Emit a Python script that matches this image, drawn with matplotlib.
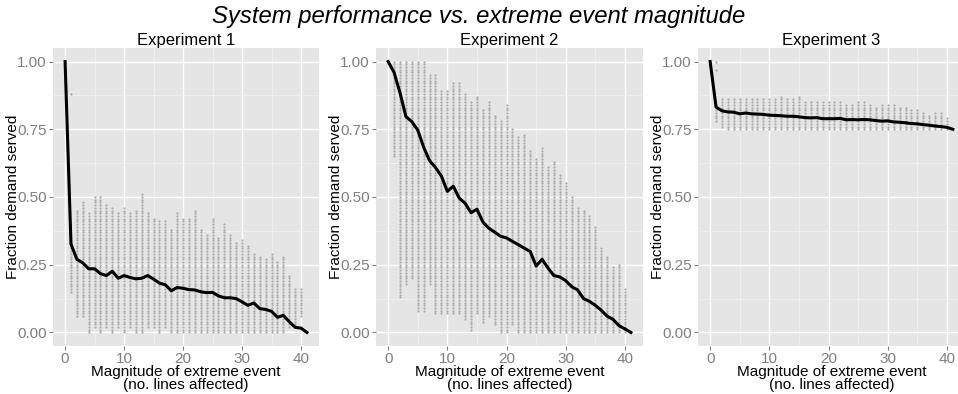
import numpy as np
import matplotlib.pyplot as plt

plt.rcParams['font.family'] = ['Liberation Sans', 'DejaVu Sans']

magnitude = list(range(42))

# mean fraction of demand served, per magnitude
mean_exp1 = [1.0, 0.326, 0.27, 0.257, 0.235, 0.235, 0.217, 0.21, 0.226, 0.2, 0.21,
             0.203, 0.198, 0.2, 0.21, 0.197, 0.182, 0.176, 0.154, 0.166, 0.163,
             0.158, 0.157, 0.15, 0.147, 0.148, 0.135, 0.128, 0.128, 0.125, 0.113,
             0.1, 0.109, 0.088, 0.085, 0.078, 0.056, 0.063, 0.04, 0.019, 0.016, 0.0]
mean_exp2 = [1.0, 0.96, 0.885, 0.797, 0.778, 0.747, 0.684, 0.634, 0.609, 0.577, 0.521,
             0.54, 0.496, 0.477, 0.442, 0.455, 0.408, 0.385, 0.37, 0.355, 0.349,
             0.336, 0.324, 0.311, 0.299, 0.245, 0.27, 0.238, 0.21, 0.205, 0.191,
             0.169, 0.157, 0.125, 0.115, 0.1, 0.082, 0.06, 0.048, 0.025, 0.013, 0.0]
mean_exp3 = [1.0, 0.832, 0.818, 0.814, 0.813, 0.807, 0.81, 0.807, 0.806, 0.805, 0.802,
             0.801, 0.8, 0.798, 0.798, 0.796, 0.793, 0.792, 0.793, 0.789, 0.789,
             0.789, 0.79, 0.785, 0.786, 0.785, 0.786, 0.785, 0.782, 0.78, 0.781,
             0.777, 0.776, 0.774, 0.771, 0.77, 0.767, 0.765, 0.762, 0.76, 0.757, 0.75]

# spread of the individual runs (lowest / highest value seen at each magnitude)
lo_exp1 = [1.0, 0.15, 0.06, 0.06, 0.0, 0.02, 0.0, 0.02, 0.0, 0.02, 0.0,
           0.02, 0.0, 0.0, 0.02, 0.02, 0.0, 0.02, 0.0, 0.0, 0.0,
           0.0, 0.0, 0.0, 0.0, 0.0, 0.0, 0.0, 0.0, 0.0, 0.0,
           0.0, 0.0, 0.0, 0.0, 0.0, 0.0, 0.0, 0.02, 0.02, 0.06, 0.0]
hi_exp1 = [1.0, 0.33, 0.45, 0.48, 0.44, 0.5, 0.5, 0.47, 0.46, 0.44, 0.46,
           0.44, 0.45, 0.51, 0.44, 0.42, 0.41, 0.41, 0.38, 0.44, 0.42,
           0.42, 0.45, 0.38, 0.36, 0.42, 0.35, 0.4, 0.36, 0.33, 0.34,
           0.32, 0.29, 0.28, 0.27, 0.29, 0.26, 0.28, 0.21, 0.16, 0.16, 0.0]
lo_exp2 = [1.0, 0.65, 0.13, 0.18, 0.2, 0.08, 0.08, 0.18, 0.07, 0.07, 0.07,
           0.07, 0.07, 0.05, 0.01, 0.07, 0.04, 0.06, 0.03, 0.0, 0.0,
           0.03, 0.0, 0.0, 0.0, 0.0, 0.0, 0.0, 0.0, 0.0, 0.0,
           0.0, 0.0, 0.0, 0.0, 0.0, 0.0, 0.0, 0.0, 0.0, 0.0, 0.0]
hi_exp2 = [1.0, 1.0, 1.0, 1.0, 1.0, 1.0, 1.0, 0.95, 0.95, 0.89, 0.89,
           0.92, 0.92, 0.88, 0.85, 0.87, 0.82, 0.85, 0.8, 0.78, 0.84,
           0.75, 0.72, 0.73, 0.67, 0.64, 0.68, 0.61, 0.63, 0.58, 0.55,
           0.5, 0.46, 0.45, 0.43, 0.39, 0.31, 0.28, 0.24, 0.25, 0.16, 0.0]
lo_exp3 = [1.0, 0.78, 0.755, 0.75, 0.75, 0.75, 0.75, 0.75, 0.75, 0.75, 0.75,
           0.75, 0.75, 0.75, 0.75, 0.75, 0.75, 0.75, 0.75, 0.75, 0.75,
           0.75, 0.75, 0.75, 0.75, 0.75, 0.75, 0.75, 0.75, 0.75, 0.75,
           0.75, 0.75, 0.75, 0.75, 0.75, 0.75, 0.75, 0.75, 0.75, 0.75, 0.75]
hi_exp3 = [1.0, 0.84, 0.865, 0.86, 0.865, 0.865, 0.865, 0.86, 0.86, 0.865, 0.86,
           0.86, 0.875, 0.86, 0.86, 0.87, 0.855, 0.855, 0.855, 0.85, 0.855,
           0.85, 0.85, 0.845, 0.845, 0.85, 0.855, 0.845, 0.83, 0.84, 0.845,
           0.84, 0.835, 0.83, 0.825, 0.825, 0.81, 0.8, 0.815, 0.815, 0.79, 0.75]

# isolated runs away from the main cloud: (magnitude, fraction)
extra_exp1 = [(1, 0.88)]
extra_exp2 = []
extra_exp3 = [(1, 1.0), (1, 0.97)]

titles = ['Experiment 1', 'Experiment 2', 'Experiment 3']

# axes rectangles in pixels (left, right), shared top/bottom
W, H = 958, 394
panel_x = [(53, 319), (376, 643), (698, 965)]
panel_top, panel_bottom = 48, 346


def run_points(lo, hi, extra):
    xs, ys = [], []
    levels = np.arange(0, 1.0001, 0.01)
    for x in magnitude:
        sel = levels[(levels >= lo[x] - 1e-9) & (levels <= hi[x] + 1e-9)]
        xs += [x] * len(sel)
        ys += list(sel)
    for x, y in extra:
        xs.append(x)
        ys.append(y)
    return xs, ys


def draw_panel(ax, mean, lo, hi, extra, title):
    ax.set_facecolor('#E5E5E5')
    for s in ax.spines.values():
        s.set_visible(False)
    ax.set_xlim(-2.05, 43.05)
    ax.set_ylim(-0.05, 1.05)
    ax.set_xticks([0, 10, 20, 30, 40])
    ax.set_yticks([0, 0.25, 0.5, 0.75, 1.0])
    ax.set_yticklabels(['0.00', '0.25', '0.50', '0.75', '1.00'])
    ax.set_xticks([5, 15, 25, 35], minor=True)
    ax.set_yticks([0.125, 0.375, 0.625, 0.875], minor=True)
    ax.grid(which='major', color='white', lw=1.0)
    ax.grid(which='minor', color='#F2F2F2', lw=0.6)
    ax.set_axisbelow(True)
    ax.tick_params(which='major', colors='#7F7F7F', labelsize=11, length=3, width=0.8, pad=1.5)
    ax.tick_params(which='minor', length=0)

    xs, ys = run_points(lo, hi, extra)
    ax.scatter(xs, ys, s=2.6, color='#ABABAB', marker='o', linewidths=0, zorder=2)
    ax.plot(magnitude, mean, color='black', lw=2.2, zorder=3)

    ax.set_title(title, fontsize=12, pad=2)
    ax.set_xlabel('Magnitude of extreme event\n(no. lines affected)', fontsize=11,
                  labelpad=-1, linespacing=0.95)
    ax.set_ylabel('Fraction demand served', fontsize=11, labelpad=-2)


def main():
    fig = plt.figure(figsize=(W / 100, H / 100), dpi=100)
    data = [(mean_exp1, lo_exp1, hi_exp1, extra_exp1),
            (mean_exp2, lo_exp2, hi_exp2, extra_exp2),
            (mean_exp3, lo_exp3, hi_exp3, extra_exp3)]
    for (x0, x1), (mean, lo, hi, extra), title in zip(panel_x, data, titles):
        ax = fig.add_axes([x0 / W, 1 - panel_bottom / H, (x1 - x0) / W,
                           (panel_bottom - panel_top) / H])
        draw_panel(ax, mean, lo, hi, extra, title)

    fig.text(0.5, 1 - 16 / H, 'System performance vs. extreme event magnitude',
             ha='center', va='center', fontsize=17.2, style='italic')
    fig.savefig('out.png', dpi=100)


if __name__ == '__main__':
    main()
